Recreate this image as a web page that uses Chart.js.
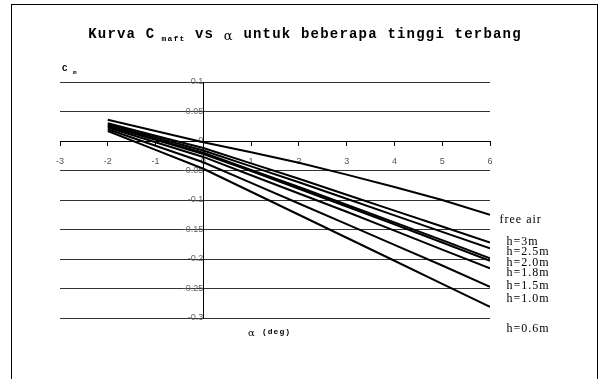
<!DOCTYPE html>
<html>
<head>
<meta charset="utf-8">
<script src="https://cdn.jsdelivr.net/npm/chart.js@4.4.1/dist/chart.umd.min.js"></script>
<style>
  html, body { margin: 0; padding: 0; background: #fff; }
  #wrap { position: relative; width: 608px; height: 379px; }
  #frame { position: absolute; left: 11px; top: 4px; width: 585px; height: 390px; border: 1px solid #000; border-bottom: none; pointer-events: none; }
  canvas { position: absolute; left: 0; top: 0; }
</style>
</head>
<body>
<div id="wrap">
  <canvas id="cmChart" width="608" height="379"></canvas>
  <div id="frame"></div>
</div>
<script>
// angle of attack (deg)
const alpha = [-2, -1, 0, 1, 2, 3, 4, 5, 6];

// C_m for each flight height
const freeAir = [0.036, 0.017, -0.002, -0.019, -0.037, -0.057, -0.078, -0.100, -0.125];
const h30 = [0.030, 0.009, -0.012, -0.038, -0.064, -0.091, -0.118, -0.145, -0.172];
const h25 = [0.028, 0.006, -0.016, -0.043, -0.070, -0.098, -0.126, -0.154, -0.182];
const h20 = [0.026, 0.003, -0.020, -0.049, -0.078, -0.108, -0.138, -0.168, -0.199];
const h18 = [0.025, 0.002, -0.022, -0.051, -0.081, -0.111, -0.141, -0.172, -0.203];
const h15 = [0.023, -0.002, -0.027, -0.058, -0.089, -0.120, -0.152, -0.184, -0.216];
const h10 = [0.020, -0.008, -0.036, -0.071, -0.106, -0.141, -0.176, -0.211, -0.247];
const h06 = [0.017, -0.015, -0.047, -0.086, -0.125, -0.164, -0.203, -0.242, -0.281];

const seriesNames = ['free air', 'h=3m', 'h=2.5m', 'h=2.0m', 'h=1.8m', 'h=1.5m', 'h=1.0m', 'h=0.6m'];
const seriesValues = [freeAir, h30, h25, h20, h18, h15, h10, h06];
// where each name is written, in C_m units, right of the plot
const nameAtCm = [-0.134, -0.171, -0.188, -0.207, -0.224, -0.246, -0.268, -0.319];

const toPoints = (ys) => alpha.map((a, i) => ({ x: a, y: ys[i] }));

const fmtTick = (v) => String(Number(v.toFixed(2)));

// title, axis titles and line names
const textPlugin = {
  id: 'chartTexts',
  afterDraw(chart) {
    const { ctx, scales } = chart;
    ctx.save();
    ctx.fillStyle = '#000';
    ctx.textBaseline = 'alphabetic';

    // title with subscripts
    ctx.letterSpacing = '1.2px';
    const parts = [
      ['Kurva C', 'bold 14px "Liberation Mono"', 0],
      [' maft', 'bold 8px "Liberation Mono"', 3],
      [' vs ', 'bold 14px "Liberation Mono"', 0],
      ['α', '13px "DejaVu Serif"', 2],
      [' untuk beberapa tinggi terbang', 'bold 14px "Liberation Mono"', 0],
    ];
    let total = 0;
    parts.forEach(([t, f]) => { ctx.font = f; total += ctx.measureText(t).width; });
    let x = 305 - total / 2;
    parts.forEach(([t, f, dy]) => {
      ctx.font = f;
      ctx.fillText(t, x, 38 + dy);
      x += ctx.measureText(t).width;
    });
    ctx.letterSpacing = '0px';

    // y title
    ctx.font = 'bold 9px "Liberation Mono"';
    ctx.fillText('C', 62, 71);
    ctx.font = 'bold 6px "Liberation Mono"';
    ctx.fillText('m', 73, 74);

    // x title
    ctx.font = '10px "DejaVu Serif"';
    ctx.fillText('α', 248, 336);
    ctx.font = 'bold 8px "Liberation Mono"';
    ctx.letterSpacing = '1px';
    ctx.fillText('(deg)', 262, 334);

    // line names
    ctx.font = '12px "Liberation Serif"';
    ctx.letterSpacing = '1px';
    ctx.textBaseline = 'middle';
    const xs = scales.x.getPixelForValue(6.2);
    seriesNames.forEach((n, i) => {
      const off = i === 0 ? 0 : 7;
      ctx.fillText(n, xs + off, scales.y.getPixelForValue(nameAtCm[i]));
    });
    ctx.restore();
  },
};

new Chart(document.getElementById('cmChart'), {
  type: 'line',
  data: {
    datasets: seriesValues.map((ys, i) => ({
      label: seriesNames[i],
      data: toPoints(ys),
      borderColor: '#000',
      borderWidth: 2,
      pointRadius: 0,
      tension: 0,
      fill: false,
    })),
  },
  options: {
    responsive: false,
    animation: false,
    layout: { padding: { left: 60, right: 118, top: 82, bottom: 61 } },
    plugins: {
      legend: { display: false },
      title: { display: false },
      tooltip: { enabled: false },
    },
    scales: {
      x: {
        type: 'linear',
        min: -3,
        max: 6,
        position: { y: 0 },
        grid: { drawOnChartArea: false, tickLength: 4, color: '#000' },
        border: { color: '#000', width: 1 },
        ticks: {
          stepSize: 1,
          padding: 11,
          color: '#555',
          font: { family: 'Liberation Sans', size: 9 },
        },
      },
      y: {
        type: 'linear',
        min: -0.3,
        max: 0.1,
        position: { x: 0 },
        grid: { color: '#333', tickLength: 3 },
        border: { color: '#000', width: 1 },
        ticks: {
          stepSize: 0.05,
          padding: 3,
          color: '#666',
          font: { family: 'Liberation Sans', size: 9 },
          callback: fmtTick,
        },
      },
    },
  },
  plugins: [textPlugin],
});
</script>
</body>
</html>
